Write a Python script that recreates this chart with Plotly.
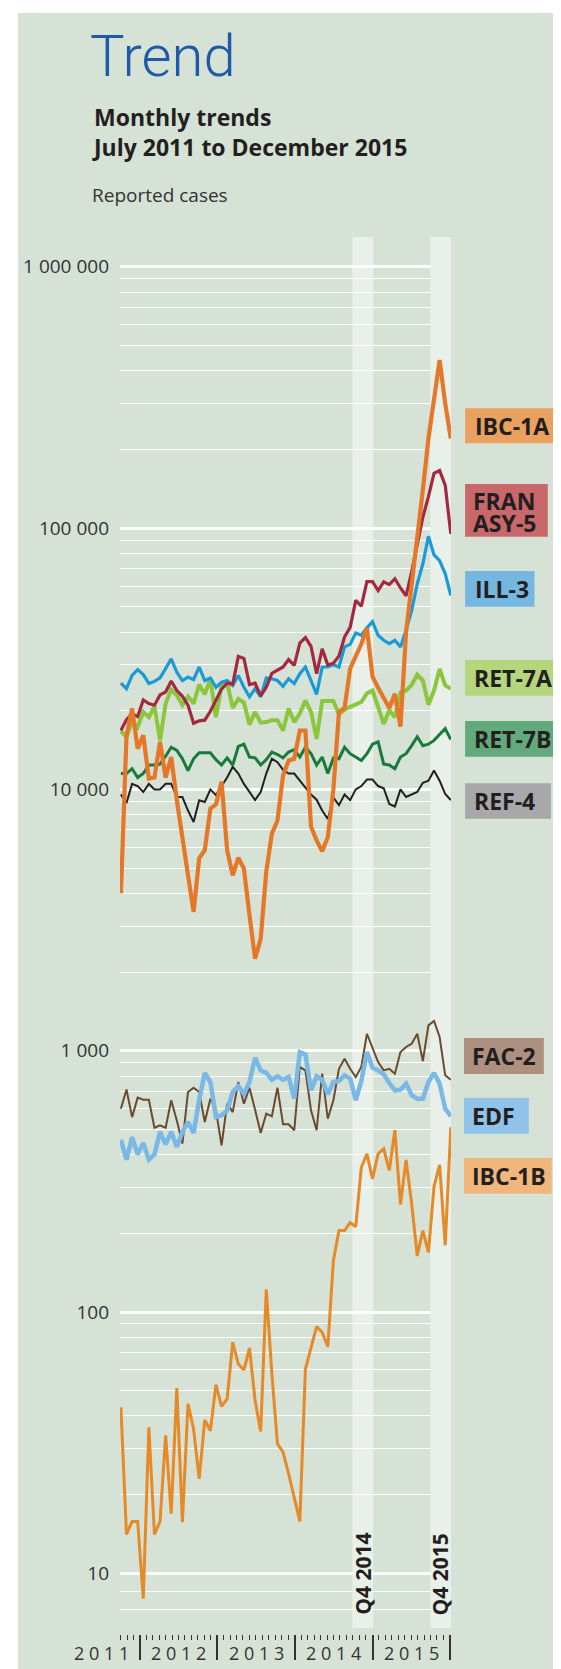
import plotly.graph_objects as go

# ------------------------------------------------------------------ data
period = list(range(60))  # monthly reporting periods, July 2011 -> December 2015

ibc_1a = [4000, 16000, 20400, 14300, 16100, 11000, 11100, 15200, 11100, 13300,
          9100, 6400, 4700, 3400, 5450, 5850, 8440, 8770, 10700, 5850,
          4690, 5480, 4970, 3300, 2250, 2680, 4850, 6770, 7600, 11300,
          12900, 13100, 16800, 16800, 7200, 6380, 5800, 6560, 10000, 19800,
          20500, 29000, 32000, 36000, 41500, 27000, 24500, 22500, 20500, 23200,
          17400, 40000, 60000, 87000, 140000, 220000, 320000, 440000, 300000, 220000]

fran_asy_5 = [16800, 18500, 19500, 19000, 22000, 21300, 21000, 23000, 23600, 26000,
              23900, 22700, 21000, 17900, 18300, 18400, 19900, 22000, 24200, 25500,
              25300, 32300, 31700, 25200, 25500, 22800, 24600, 27800, 28600, 29400,
              31400, 29800, 36300, 38100, 35300, 27700, 34500, 29900, 30400, 32400,
              38300, 41700, 52900, 50300, 62400, 62400, 57700, 62300, 60800, 64000,
              59000, 55000, 68000, 87000, 110000, 132000, 162000, 166000, 146000, 95000]

ill_3 = [25500, 24300, 27300, 28700, 27500, 25400, 25900, 26700, 29000, 31600,
         28100, 26100, 26900, 26300, 29400, 26100, 26700, 24600, 25700, 26100,
         25000, 27300, 24600, 22600, 24300, 22600, 26700, 26500, 26100, 24800,
         26500, 25400, 27700, 29400, 26100, 23100, 29400, 29400, 30000, 29400,
         35100, 35900, 39700, 38900, 41500, 43800, 38900, 37200, 36100, 37200,
         35100, 40600, 48300, 61100, 73000, 93000, 79000, 75000, 67000, 55200]

ret_7a = [16700, 15900, 18200, 17300, 19800, 18900, 20800, 15400, 21300, 24100,
          22900, 21000, 22700, 21300, 25200, 23100, 26400, 18900, 25000, 25600,
          20500, 22200, 21500, 17700, 19800, 18000, 18100, 18400, 18400, 16800,
          20400, 18100, 19500, 21900, 19800, 15600, 21800, 21800, 21800, 19400,
          20200, 20700, 21100, 21600, 23300, 23900, 20700, 17800, 20100, 18900,
          23500, 23900, 25100, 27500, 26100, 21100, 23900, 28900, 25000, 24300]

ret_7b = [11500, 11500, 12000, 11100, 11500, 12400, 12400, 12500, 13400, 14500,
          14100, 13100, 11800, 13100, 13800, 13800, 13800, 13000, 12400, 13200,
          12400, 14600, 14900, 13300, 13200, 12400, 13000, 13900, 13600, 13200,
          13900, 14200, 13300, 14500, 13700, 12400, 13300, 11500, 13200, 13100,
          14500, 13700, 13300, 12900, 13700, 14900, 15200, 12500, 12400, 12000,
          13300, 13700, 14700, 15900, 14700, 14900, 15400, 16300, 17100, 15500]

ref_4 = [9560, 8870, 10500, 10300, 9770, 10500, 10000, 10000, 10500, 10500,
         9350, 9350, 8300, 7500, 9080, 8950, 10000, 9500, 10300, 11100,
         12200, 11500, 10500, 9770, 9100, 9770, 11500, 13100, 12700, 11900,
         11500, 11500, 10800, 10200, 9560, 9130, 8300, 7700, 9300, 8700,
         9560, 9100, 10000, 10300, 10900, 10900, 10300, 10100, 8800, 8600,
         10000, 9350, 9560, 9770, 10600, 10800, 11800, 10800, 9600, 9100]

fac_2 = [600, 710, 557, 661, 649, 649, 507, 518, 507, 646,
         541, 441, 695, 722, 695, 533, 655, 591, 434, 627,
         582, 759, 627, 722, 594, 484, 574, 561, 722, 523,
         523, 496, 866, 841, 591, 496, 817, 549, 646, 853,
         932, 853, 793, 866, 1161, 1018, 905, 841, 853, 817,
         988, 1033, 1064, 1161, 913, 1250, 1299, 1128, 805, 774]

edf = [456, 383, 467, 401, 443, 383, 401, 489, 438, 489,
       428, 489, 533, 484, 649, 822, 759, 557, 566, 591,
       695, 731, 684, 759, 940, 841, 822, 774, 798, 774,
       793, 655, 988, 969, 705, 798, 774, 681, 759, 766,
       805, 782, 646, 766, 988, 861, 841, 812, 752, 705,
       709, 748, 675, 655, 655, 759, 822, 748, 600, 561]

ibc_1b = [43.2, 14.1, 15.8, 15.8, 8.0, 36.2, 14.1, 15.8, 33.7, 16.9,
          51.2, 15.7, 44.5, 35.7, 23.0, 38.6, 35.1, 52.7, 43.5, 46.5,
          76.6, 63.2, 60.0, 72.8, 45.8, 34.9, 122, 57.9, 31.3, 29.1,
          24.0, 19.5, 15.8, 60.5, 72.1, 87.9, 83.6, 73.6, 157, 205,
          205, 220, 212, 358, 403, 323, 403, 421, 348, 497,
          258, 382, 260, 164, 205, 169, 302, 366, 180, 509]

years = ["2011", "2012", "2013", "2014", "2015"]
y_tick_values = [10, 100, 1000, 10000, 100000, 1000000]
y_tick_labels = ["10", "100", "1 000", "10 000", "100 000", "1 000 000"]

# ------------------------------------------------------------------ layout geometry
# positions below are measured in page pixels; the figure sits 8 px in from the page corner
W, H = 561, 1669
OFF = 8
PL, PR, PT, PB = 120, 451, 237, 1634          # plot area (page pixels)
X0_PX, DX_PX = 120.9, 5.5915                    # pixel of first period, pixels per period


def xr(px):          # page pixel -> x axis units
    return (px - X0_PX) / DX_PX


def pxx(px):         # page pixel -> paper x
    return (px - PL) / (PR - PL)


def pxy(py):         # page pixel -> paper y
    return (PB - py) / (PB - PT)


def ylog(py):        # page pixel -> y data value (log axis)
    return 10 ** (1 + (1573.3 - py) / 261.3)


PANEL = "#d6e2d6"
BAND = "#e9f0e9"
TEXT = "#231f20"

year_sep = [xr(p) for p in (139.9, 217.2, 294.8, 372.5, 450.1)]
year_len = year_sep[1] - year_sep[0]
minor_x = [year_sep[0] - k * year_len / 12 for k in (1, 2, 3)]
for ys in year_sep[:-1]:
    minor_x += [ys + k * year_len / 12 for k in range(1, 12)]

minor_y = [8.55, 7.3]
for k in range(1, 6):
    minor_y += [m * 10 ** k for m in range(2, 10)]

# ------------------------------------------------------------------ traces
series = [
    ("REF-4", ref_4, "#231f20", 2.0),
    ("RET-7B", ret_7b, "#1a7a3c", 3.0),
    ("RET-7A", ret_7a, "#8cc63f", 4.0),
    ("ILL-3", ill_3, "#1b9ad6", 3.2),
    ("FRAN ASY-5", fran_asy_5, "#a3293f", 3.2),
    ("IBC-1A", ibc_1a, "#e57828", 4.2),
    ("FAC-2", fac_2, "#6b4a2e", 2.0),
    ("EDF", edf, "#7ab8e6", 4.5),
    ("IBC-1B", ibc_1b, "#e68a28", 3.0),
]

fig = go.Figure()
for name, vals, color, width in series:
    fig.add_trace(go.Scatter(x=period, y=vals, mode="lines", name=name,
                             line=dict(color=color, width=width),
                             hoverinfo="skip"))

# ------------------------------------------------------------------ shapes
shapes = [
    dict(type="rect", xref="paper", yref="paper", layer="below",
         x0=pxx(18), x1=pxx(580), y0=pxy(1690), y1=pxy(13),
         fillcolor=PANEL, line=dict(width=0)),
    dict(type="rect", xref="x", yref="y", layer="below",
         x0=xr(352.4), x1=xr(373.2), y0=ylog(1628), y1=ylog(PT),
         fillcolor=BAND, line=dict(width=0)),
    dict(type="rect", xref="x", yref="y", layer="between",
         x0=xr(430.2), x1=xr(451), y0=ylog(1628), y1=ylog(PT),
         fillcolor=BAND, line=dict(width=0)),
]

labels = [
    # box x0, x1, y0, y1, color, [(text, text_left, y_center)]
    (465.1, 554.6, 408.3, 443.3, "#eaa05e", [("IBC-1A", 472.5, 426)]),
    (465.1, 547.8, 484.0, 536.7, "#c8686a", [("FRAN", 471, 501.5), ("ASY-5", 471, 522.5)]),
    (465.1, 534.5, 571.0, 606.7, "#76b7e2", [("ILL-3", 472.5, 589)]),
    (465.1, 566.0, 660.0, 695.7, "#b5d67c", [("RET-7A", 471.5, 678)]),
    (465.1, 566.0, 721.0, 756.7, "#62a97c", [("RET-7B", 471.5, 739)]),
    (465.1, 551.0, 783.3, 818.7, "#a8a8aa", [("REF-4", 471.5, 801)]),
    (464.0, 543.8, 1038.0, 1074.0, "#ad9080", [("FAC-2", 469.5, 1056)]),
    (464.0, 528.8, 1098.0, 1133.7, "#8fc3ea", [("EDF", 470.5, 1116)]),
    (464.0, 551.7, 1158.0, 1193.7, "#f0b67c", [("IBC-1B", 469.5, 1176)]),
]

annotations = []
for bx0, bx1, by0, by1, col, texts in labels:
    shapes.append(dict(type="rect", xref="paper", yref="paper", layer="below",
                       x0=pxx(bx0), x1=pxx(bx1), y0=pxy(by1), y1=pxy(by0),
                       fillcolor=col, line=dict(width=0)))
    for t, tx, ty in texts:
        annotations.append(dict(text=t, xref="paper", yref="paper",
                                x=pxx(tx), y=pxy(ty), xanchor="left", yanchor="middle",
                                showarrow=False,
                                font=dict(family="Open Sans", size=23, weight=700, color=TEXT)))

# titles
titles = [
    dict(text="Trend", x=pxx(88), y=pxy(56), xanchor="left", yanchor="middle",
         font=dict(family="Roboto", size=58, weight=300, color="#1e5aa6")),
    dict(text="Monthly trends<br>July 2011 to December 2015", x=pxx(90), y=pxy(132.5),
         xanchor="left", yanchor="middle", align="left",
         font=dict(family="Open Sans", size=23, weight=700, color=TEXT)),
    dict(text="Reported cases", x=pxx(90), y=pxy(194.5), xanchor="left", yanchor="middle",
         font=dict(family="Open Sans", size=19, color="#333333")),
]
for a in titles:
    a.update(xref="paper", yref="paper", showarrow=False)
annotations += titles

# year labels below axis
for i, yr in enumerate(years):
    cx = 139.9 + (i - 0.5) * 77.55
    annotations.append(dict(text=" ".join(yr), xref="paper", yref="paper",
                            x=pxx(cx), y=pxy(1653), xanchor="center", yanchor="middle",
                            showarrow=False,
                            font=dict(family="Open Sans", size=18, color="#333333")))

# quarter labels
for q, cx in (("Q4 2014", 362.8), ("Q4 2015", 440.4)):
    annotations.append(dict(text=q, xref="paper", yref="paper", x=pxx(cx), y=pxy(1574),
                            xanchor="center", yanchor="middle", textangle=-90,
                            showarrow=False,
                            font=dict(family="Open Sans", size=21, weight=700, color=TEXT)))

fig.update_layout(
    width=W, height=H,
    margin=dict(l=PL - OFF, r=W - (PR - OFF), t=PT - OFF, b=H - (PB - OFF), pad=0),
    paper_bgcolor="white", plot_bgcolor=PANEL,
    showlegend=False,
    shapes=shapes, annotations=annotations,
    xaxis=dict(range=[xr(PL), xr(PR)], showgrid=False, zeroline=False, showline=False,
               tickmode="array", tickvals=year_sep, ticks="outside", ticklen=25,
               tickwidth=1.6, tickcolor="#333333", showticklabels=False,
               minor=dict(tickmode="array", tickvals=minor_x, ticks="outside", ticklen=5,
                          tickwidth=1, tickcolor="#333333", showgrid=False)),
    yaxis=dict(type="log", range=[0.7677, 6.114], showline=False, zeroline=False,
               tickmode="array", tickvals=y_tick_values, ticktext=y_tick_labels,
               ticks="", ticklabelstandoff=10,
               tickfont=dict(family="Open Sans", size=19, color="#333333"),
               showgrid=True, gridcolor="white", gridwidth=3,
               minor=dict(tickmode="array", tickvals=minor_y, ticks="",
                          showgrid=True, gridcolor="white", gridwidth=1.2)),
)

fig.write_html("out.html")
